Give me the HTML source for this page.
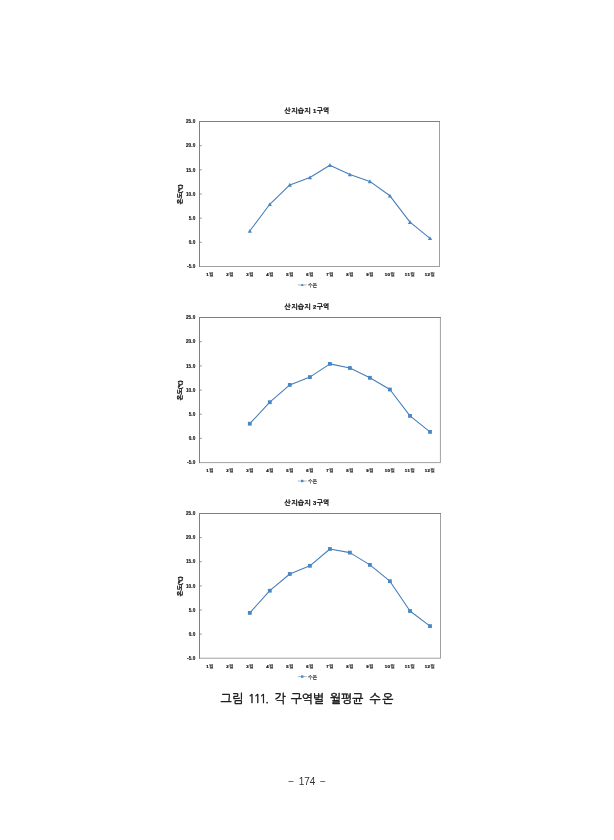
<!DOCTYPE html>
<html lang="ko"><head><meta charset="utf-8"><title>그림 111. 각 구역별 월평균 수온</title>
<style>
html,body{margin:0;padding:0;background:#fff;}
body{width:614px;height:840px;overflow:hidden;position:relative;font-family:"Liberation Sans", "NanumGothic", "Noto Sans CJK KR", sans-serif;}
svg{position:absolute;left:0;top:0;display:block;}
text{font-family:"Liberation Sans", "NanumGothic", "Noto Sans CJK KR", sans-serif;}
.t{font-size:6.7px;font-weight:700;fill:#111;stroke:#111;stroke-width:.22px;letter-spacing:.3px;text-anchor:middle;}
.yl{font-size:4.7px;font-weight:700;fill:#111;stroke:#111;stroke-width:.12px;letter-spacing:.08px;text-anchor:end;}
.xl{font-size:4.8px;font-weight:700;fill:#222;stroke:#222;stroke-width:.06px;text-anchor:middle;}
.xl .d{font-size:4.3px;letter-spacing:.4px;fill:#111;stroke:#111;stroke-width:.22px;}
.ya{font-size:6px;font-weight:700;fill:#111;stroke:#111;stroke-width:.32px;text-anchor:middle;}
.lg{font-size:4.9px;font-weight:400;fill:#222;stroke:#222;stroke-width:.18px;}
.cap{font-size:12.2px;fill:#111;stroke:#111;stroke-width:.4px;text-anchor:start;}
.pg{font-size:10px;fill:#333;text-anchor:middle;word-spacing:1.8px;}
</style></head><body>
<svg width="614" height="840" viewBox="0 0 614 840">

<g>
<text class="t" x="307.2" y="113.2">산지습지 <tspan style="font-size:5.8px">1</tspan>구역</text>
<rect x="199.5" y="121.5" width="240.0" height="145.0" fill="none" stroke="#a0a0a0" stroke-width="1"/>
<path d="M199.5 267.0 V121.5 H440.0" fill="none" stroke="#808080" stroke-width="1"/>
<text class="yl" x="195.4" y="123.2">25.0</text>
<text class="yl" x="195.4" y="147.4">20.0</text>
<line x1="199.5" x2="201.8" y1="145.7" y2="145.7" stroke="#7c7c7c" stroke-width="0.8"/>
<text class="yl" x="195.4" y="171.5">15.0</text>
<line x1="199.5" x2="201.8" y1="169.8" y2="169.8" stroke="#7c7c7c" stroke-width="0.8"/>
<text class="yl" x="195.4" y="195.7">10.0</text>
<line x1="199.5" x2="201.8" y1="194.0" y2="194.0" stroke="#7c7c7c" stroke-width="0.8"/>
<text class="yl" x="195.4" y="219.9">5.0</text>
<line x1="199.5" x2="201.8" y1="218.2" y2="218.2" stroke="#7c7c7c" stroke-width="0.8"/>
<text class="yl" x="195.4" y="244.0">0.0</text>
<line x1="199.5" x2="201.8" y1="242.3" y2="242.3" stroke="#7c7c7c" stroke-width="0.8"/>
<text class="yl" x="195.4" y="268.2">-5.0</text>
<text class="xl" x="209.8" y="276.1"><tspan class="d" dy="0.15">1</tspan><tspan dy="-0.15">월</tspan></text>
<text class="xl" x="229.8" y="276.1"><tspan class="d" dy="0.15">2</tspan><tspan dy="-0.15">월</tspan></text>
<text class="xl" x="249.8" y="276.1"><tspan class="d" dy="0.15">3</tspan><tspan dy="-0.15">월</tspan></text>
<text class="xl" x="269.8" y="276.1"><tspan class="d" dy="0.15">4</tspan><tspan dy="-0.15">월</tspan></text>
<text class="xl" x="289.8" y="276.1"><tspan class="d" dy="0.15">5</tspan><tspan dy="-0.15">월</tspan></text>
<text class="xl" x="309.8" y="276.1"><tspan class="d" dy="0.15">6</tspan><tspan dy="-0.15">월</tspan></text>
<text class="xl" x="329.8" y="276.1"><tspan class="d" dy="0.15">7</tspan><tspan dy="-0.15">월</tspan></text>
<text class="xl" x="349.8" y="276.1"><tspan class="d" dy="0.15">8</tspan><tspan dy="-0.15">월</tspan></text>
<text class="xl" x="369.8" y="276.1"><tspan class="d" dy="0.15">9</tspan><tspan dy="-0.15">월</tspan></text>
<text class="xl" x="389.8" y="276.1"><tspan class="d" dy="0.15">10</tspan><tspan dy="-0.15">월</tspan></text>
<text class="xl" x="409.8" y="276.1"><tspan class="d" dy="0.15">11</tspan><tspan dy="-0.15">월</tspan></text>
<text class="xl" x="429.8" y="276.1"><tspan class="d" dy="0.15">12</tspan><tspan dy="-0.15">월</tspan></text>
<text class="ya" transform="translate(182.3 194.4) rotate(-90)">온도<tspan style="font-size:5px">(℃)</tspan></text>
<polyline fill="none" stroke="#467db9" stroke-width="1.08" stroke-linejoin="round" points="249.8,231.0 269.8,204.3 289.8,184.9 309.9,177.5 329.9,165.2 349.9,174.5 369.9,181.4 389.9,195.8 410.0,222.2 430.0,238.3"/>
<path d="M249.8 228.9 L251.9 232.8 L247.7 232.8 Z" fill="#4887c6"/>
<path d="M269.8 202.2 L271.9 206.1 L267.7 206.1 Z" fill="#4887c6"/>
<path d="M289.8 182.8 L291.9 186.7 L287.7 186.7 Z" fill="#4887c6"/>
<path d="M309.9 175.4 L312.0 179.3 L307.8 179.3 Z" fill="#4887c6"/>
<path d="M329.9 163.1 L332.0 167.0 L327.8 167.0 Z" fill="#4887c6"/>
<path d="M349.9 172.4 L352.0 176.3 L347.8 176.3 Z" fill="#4887c6"/>
<path d="M369.9 179.3 L372.0 183.2 L367.8 183.2 Z" fill="#4887c6"/>
<path d="M389.9 193.7 L392.0 197.6 L387.8 197.6 Z" fill="#4887c6"/>
<path d="M410.0 220.1 L412.1 224.0 L407.9 224.0 Z" fill="#4887c6"/>
<path d="M430.0 236.2 L432.1 240.1 L427.9 240.1 Z" fill="#4887c6"/>
<line x1="297.8" x2="306.6" y1="284.9" y2="284.9" stroke="#467db9" stroke-width="0.7" stroke-opacity="0.75"/>
<path d="M302.2 283.4 L303.7 286.1 L300.7 286.1 Z" fill="#4887c6"/>
<text class="lg" x="307.9" y="286.8">수온</text>
</g>
<g>
<text class="t" x="307.2" y="309.2">산지습지 <tspan style="font-size:5.8px">2</tspan>구역</text>
<rect x="199.5" y="317.5" width="240.9" height="145.10000000000002" fill="none" stroke="#a0a0a0" stroke-width="1"/>
<path d="M199.5 463.1 V317.5 H440.9" fill="none" stroke="#808080" stroke-width="1"/>
<text class="yl" x="195.4" y="319.2">25.0</text>
<text class="yl" x="195.4" y="343.4">20.0</text>
<line x1="199.5" x2="201.8" y1="341.7" y2="341.7" stroke="#7c7c7c" stroke-width="0.8"/>
<text class="yl" x="195.4" y="367.6">15.0</text>
<line x1="199.5" x2="201.8" y1="365.9" y2="365.9" stroke="#7c7c7c" stroke-width="0.8"/>
<text class="yl" x="195.4" y="391.8">10.0</text>
<line x1="199.5" x2="201.8" y1="390.1" y2="390.1" stroke="#7c7c7c" stroke-width="0.8"/>
<text class="yl" x="195.4" y="415.9">5.0</text>
<line x1="199.5" x2="201.8" y1="414.2" y2="414.2" stroke="#7c7c7c" stroke-width="0.8"/>
<text class="yl" x="195.4" y="440.1">0.0</text>
<line x1="199.5" x2="201.8" y1="438.4" y2="438.4" stroke="#7c7c7c" stroke-width="0.8"/>
<text class="yl" x="195.4" y="464.3">-5.0</text>
<text class="xl" x="209.8" y="472.2"><tspan class="d" dy="0.15">1</tspan><tspan dy="-0.15">월</tspan></text>
<text class="xl" x="229.8" y="472.2"><tspan class="d" dy="0.15">2</tspan><tspan dy="-0.15">월</tspan></text>
<text class="xl" x="249.8" y="472.2"><tspan class="d" dy="0.15">3</tspan><tspan dy="-0.15">월</tspan></text>
<text class="xl" x="269.8" y="472.2"><tspan class="d" dy="0.15">4</tspan><tspan dy="-0.15">월</tspan></text>
<text class="xl" x="289.8" y="472.2"><tspan class="d" dy="0.15">5</tspan><tspan dy="-0.15">월</tspan></text>
<text class="xl" x="309.8" y="472.2"><tspan class="d" dy="0.15">6</tspan><tspan dy="-0.15">월</tspan></text>
<text class="xl" x="329.8" y="472.2"><tspan class="d" dy="0.15">7</tspan><tspan dy="-0.15">월</tspan></text>
<text class="xl" x="349.8" y="472.2"><tspan class="d" dy="0.15">8</tspan><tspan dy="-0.15">월</tspan></text>
<text class="xl" x="369.8" y="472.2"><tspan class="d" dy="0.15">9</tspan><tspan dy="-0.15">월</tspan></text>
<text class="xl" x="389.8" y="472.2"><tspan class="d" dy="0.15">10</tspan><tspan dy="-0.15">월</tspan></text>
<text class="xl" x="409.8" y="472.2"><tspan class="d" dy="0.15">11</tspan><tspan dy="-0.15">월</tspan></text>
<text class="xl" x="429.8" y="472.2"><tspan class="d" dy="0.15">12</tspan><tspan dy="-0.15">월</tspan></text>
<text class="ya" transform="translate(182.3 390.4) rotate(-90)">온도<tspan style="font-size:5px">(℃)</tspan></text>
<polyline fill="none" stroke="#467db9" stroke-width="1.08" stroke-linejoin="round" points="249.8,423.7 269.8,402.2 289.8,384.9 309.9,377.1 329.9,363.9 349.9,368.0 369.9,377.8 389.9,389.5 410.0,415.9 430.0,431.9"/>
<rect x="247.9" y="421.8" width="3.8" height="3.8" fill="#4887c6"/>
<rect x="267.9" y="400.3" width="3.8" height="3.8" fill="#4887c6"/>
<rect x="287.9" y="383.0" width="3.8" height="3.8" fill="#4887c6"/>
<rect x="308.0" y="375.2" width="3.8" height="3.8" fill="#4887c6"/>
<rect x="328.0" y="362.0" width="3.8" height="3.8" fill="#4887c6"/>
<rect x="348.0" y="366.1" width="3.8" height="3.8" fill="#4887c6"/>
<rect x="368.0" y="375.9" width="3.8" height="3.8" fill="#4887c6"/>
<rect x="388.0" y="387.6" width="3.8" height="3.8" fill="#4887c6"/>
<rect x="408.1" y="414.0" width="3.8" height="3.8" fill="#4887c6"/>
<rect x="428.1" y="430.0" width="3.8" height="3.8" fill="#4887c6"/>
<line x1="297.8" x2="306.6" y1="481.0" y2="481.0" stroke="#467db9" stroke-width="0.7" stroke-opacity="0.75"/>
<rect x="301" y="479.8" width="2.4" height="2.4" fill="#4887c6"/>
<text class="lg" x="307.9" y="482.9">수온</text>
</g>
<g>
<text class="t" x="307.2" y="505.2">산지습지 <tspan style="font-size:5.8px">3</tspan>구역</text>
<rect x="199.5" y="513.5" width="241.0" height="144.70000000000005" fill="none" stroke="#a0a0a0" stroke-width="1"/>
<path d="M199.5 658.7 V513.5 H441.0" fill="none" stroke="#808080" stroke-width="1"/>
<text class="yl" x="195.4" y="515.2">25.0</text>
<text class="yl" x="195.4" y="539.3">20.0</text>
<line x1="199.5" x2="201.8" y1="537.6" y2="537.6" stroke="#7c7c7c" stroke-width="0.8"/>
<text class="yl" x="195.4" y="563.4">15.0</text>
<line x1="199.5" x2="201.8" y1="561.7" y2="561.7" stroke="#7c7c7c" stroke-width="0.8"/>
<text class="yl" x="195.4" y="587.6">10.0</text>
<line x1="199.5" x2="201.8" y1="585.9" y2="585.9" stroke="#7c7c7c" stroke-width="0.8"/>
<text class="yl" x="195.4" y="611.7">5.0</text>
<line x1="199.5" x2="201.8" y1="610.0" y2="610.0" stroke="#7c7c7c" stroke-width="0.8"/>
<text class="yl" x="195.4" y="635.8">0.0</text>
<line x1="199.5" x2="201.8" y1="634.1" y2="634.1" stroke="#7c7c7c" stroke-width="0.8"/>
<text class="yl" x="195.4" y="659.9">-5.0</text>
<text class="xl" x="209.8" y="667.8"><tspan class="d" dy="0.15">1</tspan><tspan dy="-0.15">월</tspan></text>
<text class="xl" x="229.8" y="667.8"><tspan class="d" dy="0.15">2</tspan><tspan dy="-0.15">월</tspan></text>
<text class="xl" x="249.8" y="667.8"><tspan class="d" dy="0.15">3</tspan><tspan dy="-0.15">월</tspan></text>
<text class="xl" x="269.8" y="667.8"><tspan class="d" dy="0.15">4</tspan><tspan dy="-0.15">월</tspan></text>
<text class="xl" x="289.8" y="667.8"><tspan class="d" dy="0.15">5</tspan><tspan dy="-0.15">월</tspan></text>
<text class="xl" x="309.8" y="667.8"><tspan class="d" dy="0.15">6</tspan><tspan dy="-0.15">월</tspan></text>
<text class="xl" x="329.8" y="667.8"><tspan class="d" dy="0.15">7</tspan><tspan dy="-0.15">월</tspan></text>
<text class="xl" x="349.8" y="667.8"><tspan class="d" dy="0.15">8</tspan><tspan dy="-0.15">월</tspan></text>
<text class="xl" x="369.8" y="667.8"><tspan class="d" dy="0.15">9</tspan><tspan dy="-0.15">월</tspan></text>
<text class="xl" x="389.8" y="667.8"><tspan class="d" dy="0.15">10</tspan><tspan dy="-0.15">월</tspan></text>
<text class="xl" x="409.8" y="667.8"><tspan class="d" dy="0.15">11</tspan><tspan dy="-0.15">월</tspan></text>
<text class="xl" x="429.8" y="667.8"><tspan class="d" dy="0.15">12</tspan><tspan dy="-0.15">월</tspan></text>
<text class="ya" transform="translate(182.3 586.4) rotate(-90)">온도<tspan style="font-size:5px">(℃)</tspan></text>
<polyline fill="none" stroke="#467db9" stroke-width="1.08" stroke-linejoin="round" points="249.8,612.9 269.8,590.7 289.8,574.0 309.9,565.8 329.9,549.0 349.9,552.6 369.9,564.9 389.9,581.2 410.0,611.0 430.0,626.1"/>
<rect x="247.9" y="611.0" width="3.8" height="3.8" fill="#4887c6"/>
<rect x="267.9" y="588.8" width="3.8" height="3.8" fill="#4887c6"/>
<rect x="287.9" y="572.1" width="3.8" height="3.8" fill="#4887c6"/>
<rect x="308.0" y="563.9" width="3.8" height="3.8" fill="#4887c6"/>
<rect x="328.0" y="547.1" width="3.8" height="3.8" fill="#4887c6"/>
<rect x="348.0" y="550.7" width="3.8" height="3.8" fill="#4887c6"/>
<rect x="368.0" y="563.0" width="3.8" height="3.8" fill="#4887c6"/>
<rect x="388.0" y="579.3" width="3.8" height="3.8" fill="#4887c6"/>
<rect x="408.1" y="609.1" width="3.8" height="3.8" fill="#4887c6"/>
<rect x="428.1" y="624.2" width="3.8" height="3.8" fill="#4887c6"/>
<line x1="297.8" x2="306.6" y1="676.6" y2="676.6" stroke="#467db9" stroke-width="0.7" stroke-opacity="0.75"/>
<rect x="301" y="675.4" width="2.4" height="2.4" fill="#4887c6"/>
<text class="lg" x="307.9" y="678.5">수온</text>
</g>
<text class="cap" transform="scale(0.975 1)" y="703.1"><tspan x="226.05" style="letter-spacing:.6px">그림</tspan> <tspan x="254.36" style="font-family:NanumGothic,sans-serif;letter-spacing:-1.5px">111.</tspan> <tspan x="281.85">각</tspan> <tspan x="298.15">구역별</tspan> <tspan x="338.36">월평균</tspan> <tspan x="379.08" style="letter-spacing:1.6px">수온</tspan></text>
<text class="pg" x="307" y="785.3">− 174 −</text>
</svg></body></html>
